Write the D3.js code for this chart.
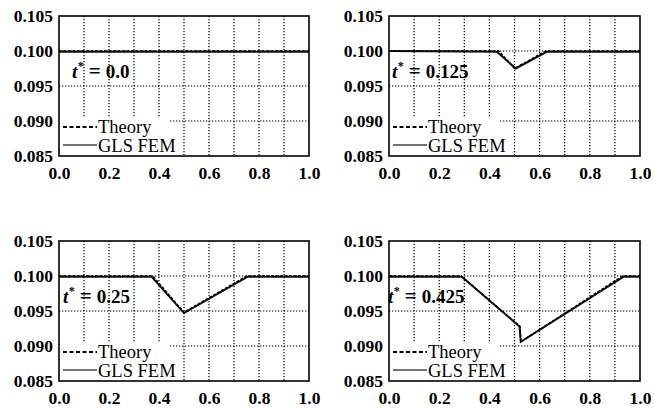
<!DOCTYPE html>
<html>
<head>
<meta charset="utf-8">
<script src="https://cdn.jsdelivr.net/npm/d3@7/dist/d3.min.js"></script>
<style>
  html, body { margin: 0; padding: 0; background: #fff; }
  svg { display: block; }
  text { font-family: "Liberation Serif", "Times New Roman", serif; fill: #000; }
</style>
</head>
<body>
<svg id="chart" width="654" height="408"></svg>
<script>
// Tick values shared by all four panels
const xTicks = [0.0, 0.2, 0.4, 0.6, 0.8, 1.0];
const yTicks = [0.085, 0.090, 0.095, 0.100, 0.105];
const xGrid = [0.1, 0.2, 0.3, 0.4, 0.5, 0.6, 0.7, 0.8, 0.9];
const yGrid = [0.090, 0.095, 0.100];

// Dimensionless times shown in each panel
const timeLabels = ["0.0", "0.125", "0.25", "0.425"];

// Theory profiles (x, depth) for each time
const theoryX0 = [0.0, 1.0];
const theoryY0 = [0.100, 0.100];
const theoryX1 = [0.0, 0.4375, 0.5, 0.625, 1.0];
const theoryY1 = [0.100, 0.100, 0.0975, 0.100, 0.100];
const theoryX2 = [0.0, 0.375, 0.5, 0.75, 1.0];
const theoryY2 = [0.100, 0.100, 0.0948, 0.100, 0.100];
const theoryX3 = [0.0, 0.2875, 0.522, 0.525, 0.93, 1.0];
const theoryY3 = [0.100, 0.100, 0.0928, 0.0906, 0.100, 0.100];

// GLS finite element results for each time
const femX0 = [0.0, 1.0];
const femY0 = [0.0999, 0.0999];
const femX1 = [0.0, 0.43, 0.505, 0.63, 1.0];
const femY1 = [0.100, 0.0999, 0.0975, 0.0999, 0.0999];
const femX2 = [0.0, 0.37, 0.5, 0.755, 1.0];
const femY2 = [0.0999, 0.0999, 0.0947, 0.0999, 0.0999];
const femX3 = [0.0, 0.29, 0.52, 0.525, 0.935, 1.0];
const femY3 = [0.0999, 0.0999, 0.0928, 0.0906, 0.0999, 0.0999];

const theoryX = [theoryX0, theoryX1, theoryX2, theoryX3];
const theoryY = [theoryY0, theoryY1, theoryY2, theoryY3];
const femX = [femX0, femX1, femX2, femX3];
const femY = [femY0, femY1, femY2, femY3];

// Panel placement (plot-area rectangles)
const panelBoxes = [
  { left: 59, top: 16, width: 250, height: 140, labelX: 72 },
  { left: 389, top: 16, width: 251, height: 140, labelX: 392 },
  { left: 59, top: 241, width: 250, height: 140, labelX: 63 },
  { left: 389, top: 241, width: 251, height: 140, labelX: 388 }
];

const svg = d3.select("#chart");

panelBoxes.forEach((box, i) => {
  const x = d3.scaleLinear().domain([0, 1]).range([box.left, box.left + box.width]);
  const y = d3.scaleLinear().domain([0.085, 0.105]).range([box.top + box.height, box.top]);
  const g = svg.append("g");

  // Legend area keeps the grid away from the lower-left corner
  const legW = 111, legH = 39;

  // Vertical dotted grid
  xGrid.forEach(v => {
    const px = x(v);
    const yEnd = px < box.left + legW ? box.top + box.height - legH : box.top + box.height;
    g.append("line")
      .attr("x1", px).attr("x2", px)
      .attr("y1", box.top).attr("y2", yEnd)
      .attr("stroke", "#000").attr("stroke-width", 1.2)
      .attr("stroke-dasharray", "1.3,1.7");
  });
  // Horizontal dotted grid
  yGrid.forEach(v => {
    const py = y(v);
    const xStart = py > box.top + box.height - legH ? box.left + legW : box.left;
    g.append("line")
      .attr("x1", xStart).attr("x2", box.left + box.width)
      .attr("y1", py).attr("y2", py)
      .attr("stroke", "#000").attr("stroke-width", 1.2)
      .attr("stroke-dasharray", "1.3,1.7");
  });

  const line = d3.line().x(d => x(d[0])).y(d => y(d[1]));
  const femPts = femX[i].map((v, k) => [v, femY[i][k]]);
  const thPts = theoryX[i].map((v, k) => [v, theoryY[i][k]]);

  g.append("path").datum(femPts).attr("d", line)
    .attr("fill", "none").attr("stroke", "#111").attr("stroke-width", 2);
  g.append("path").datum(thPts).attr("d", line)
    .attr("fill", "none").attr("stroke", "#000").attr("stroke-width", 1.5)
    .attr("stroke-dasharray", "3,1.5");

  // Frame
  g.append("rect")
    .attr("x", box.left).attr("y", box.top)
    .attr("width", box.width).attr("height", box.height)
    .attr("fill", "none").attr("stroke", "#000").attr("stroke-width", 1.6);

  // Axes (labels only; the frame carries the lines)
  const xAxis = d3.axisBottom(x).tickValues(xTicks).tickFormat(d3.format(".1f")).tickSize(0).tickPadding(6);
  const yAxis = d3.axisLeft(y).tickValues(yTicks).tickFormat(d3.format(".3f")).tickSize(0).tickPadding(6);
  const gx = g.append("g").attr("transform", `translate(0,${box.top + box.height})`).call(xAxis);
  const gy = g.append("g").attr("transform", `translate(${box.left},0)`).call(yAxis);
  [gx, gy].forEach(a => {
    a.attr("font-family", null).attr("font-size", null);
    a.select(".domain").remove();
    a.selectAll("text")
      .style("font-family", "'Liberation Serif', serif")
      .style("font-size", "17.5px")
      .style("font-weight", "bold")
      .attr("fill", "#000");
  });
  gy.selectAll("text").attr("dy", "0.32em");
  gx.selectAll("text").attr("dy", "0.95em");

  // Time label
  const t = g.append("text")
    .attr("x", box.labelX).attr("y", box.top + 62)
    .style("font-size", "19px").style("font-weight", "bold");
  t.append("tspan").style("font-style", "italic").text("t");
  t.append("tspan").attr("dy", -8).attr("dx", 0.5).style("font-size", "12px").text("*");
  t.append("tspan").attr("dy", 8).attr("dx", 5).style("font-size", "21px").text("=");
  t.append("tspan").attr("dx", 5).text(timeLabels[i]);

  // Legend
  const lx0 = box.left + 4, lx1 = box.left + 38;
  const bottom = box.top + box.height;
  g.append("line").attr("x1", lx0).attr("x2", lx1)
    .attr("y1", bottom - 29).attr("y2", bottom - 29)
    .attr("stroke", "#000").attr("stroke-width", 1.8).attr("stroke-dasharray", "4,2.5");
  g.append("line").attr("x1", lx0).attr("x2", lx1)
    .attr("y1", bottom - 11).attr("y2", bottom - 11)
    .attr("stroke", "#444").attr("stroke-width", 1.4);
  g.append("text").attr("x", lx1 + 1).attr("y", bottom - 23)
    .style("font-size", "18.5px").text("Theory");
  g.append("text").attr("x", lx1 + 1).attr("y", bottom - 4)
    .style("font-size", "18.5px").text("GLS FEM");
});
</script>
</body>
</html>
